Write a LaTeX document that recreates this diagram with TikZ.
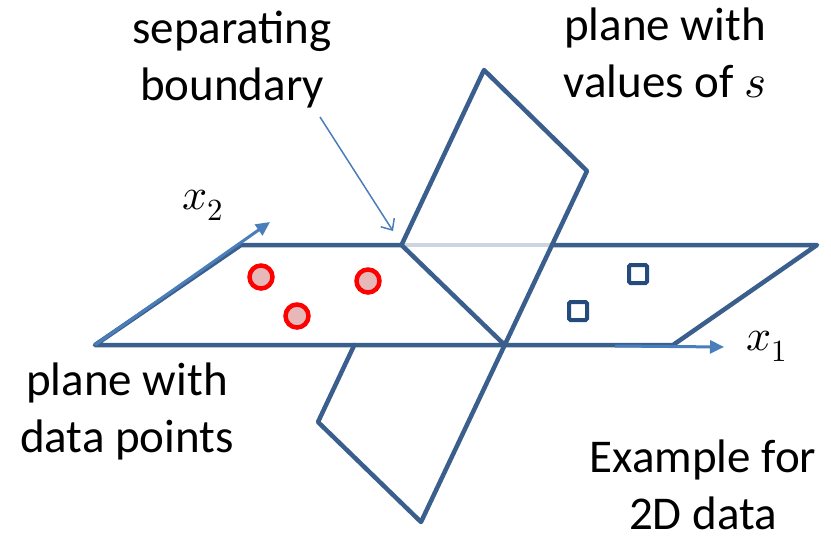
\documentclass[tikz,border=0pt]{standalone}
\usepackage{fontspec}
\usepackage{unicode-math}
\setmainfont{Carlito}
\setmathfont{Latin Modern Math}
\usepackage{tikz}
\usetikzlibrary{positioning,calc,arrows.meta}
\definecolor{planeblue}{HTML}{3B5F8D}
\definecolor{hiddenblue}{HTML}{CDD5E1}
\definecolor{axisblue}{HTML}{4A7EBB}
\definecolor{ptred}{HTML}{FF0000}
\definecolor{ptfill}{HTML}{E6B9B8}
\definecolor{sqblue}{HTML}{254A7C}

\tikzset{
  plane/.style={draw=planeblue, line width=4.5pt, line join=round, line cap=round},
  hidden/.style={draw=hiddenblue, line width=4.5pt},
  axis/.style={draw=axisblue, line width=3pt, -{Triangle[length=14pt,width=13pt]}},
  pointer/.style={draw=axisblue, line width=1.5pt, -{Straight Barb[length=9pt,width=16pt]}},
  redpt/.style={circle, draw=ptred, fill=ptfill, line width=4.5pt, minimum size=23pt, inner sep=0pt},
  sqpt/.style={rectangle, draw=sqblue, line width=4pt, minimum size=18pt, inner sep=0pt, rounded corners=1.5pt},
  label/.style={font=\fontsize{47}{57}\selectfont, align=center, text=black, anchor=base, inner sep=0pt},
  axlabel/.style={font=\fontsize{44}{52}\selectfont, text=black}
}

\begin{document}
\begin{tikzpicture}[x=1pt, y=-1pt]
  \useasboundingbox (0,0) rectangle (831,542);

  % corners of the plane with data points
  \coordinate (h1) at (95,345);
  \coordinate (h2) at (241,245);
  \coordinate (h3) at (817,245);
  \coordinate (h4) at (673,345);

  % corners of the plane with values of s
  \coordinate (v1) at (484,70);
  \coordinate (v2) at (587,171);
  \coordinate (v3) at (421,522);
  \coordinate (v4) at (318,422);

  % where the two planes cross
  \coordinate (cutL) at (401.5,245);
  \coordinate (cutR) at (552,245);
  \coordinate (cutB) at (504.7,345);
  \coordinate (cutD) at (354.3,345);

  % hidden part of the top edge
  \draw[hidden] (cutL) -- (cutR);

  % plane with data points
  \draw[plane] (cutL) -- (h2) -- (h1) -- (h4) -- (h3) -- (cutR);

  % plane with values of s
  \draw[plane] (cutL) -- (v1) -- (v2) -- (v3) -- (v4) -- (cutD);
  \draw[plane] (cutL) -- (cutB);

  % axes
  \coordinate (x2tip) at (270,222);
  \coordinate (x1start) at (615,346);
  \coordinate (x1tip) at (724,347);
  \draw[axis] (h1) -- (x2tip);
  \draw[axis] (x1start) -- (x1tip);
  \node[axlabel] (x2lab) at (203,205) {$x_2$};
  \node[axlabel] (x1lab) at (767,346) {$x_1$};

  % data points
  \node[redpt] (r1) at (261,277) {};
  \node[redpt] (r2) at (368,281) {};
  \node[redpt] (r3) at (297,316) {};
  \node[sqpt] (s1) at (638,274) {};
  \node[sqpt] (s2) at (578,311) {};

  % labels (anchored on the baseline of the second line)
  \node[label] (sep) at (232,100) {separating\\boundary};
  \node[label] (sval) at (665,97) {plane with\\values of $s$};
  \node[label] (dpts) at (127,452) {plane with\\data points};
  \node[label] (expl) at (703,529) {Example for\\2D data};

  \coordinate (septail) at (320,117);
  \coordinate (septip) at (393,231);
  \draw[pointer] (septail) -- (septip);
\end{tikzpicture}
\end{document}
